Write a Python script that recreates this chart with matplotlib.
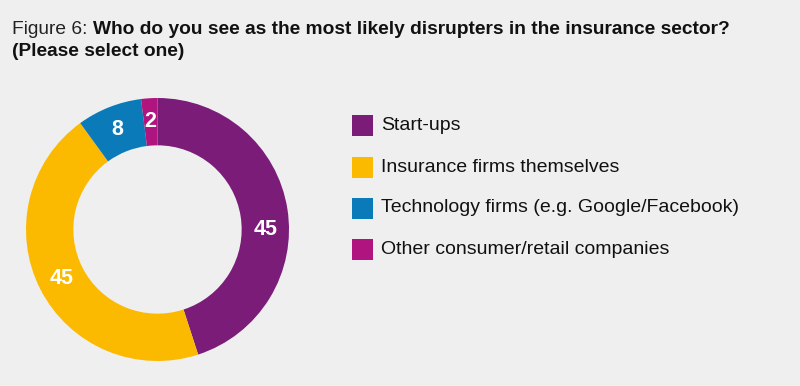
import matplotlib
matplotlib.use("Agg")
import matplotlib.pyplot as plt
from matplotlib.patches import Rectangle

categories = ["Start-ups", "Insurance firms themselves",
              "Technology firms (e.g. Google/Facebook)", "Other consumer/retail companies"]
values = [45, 45, 8, 2]
colors = ["#7a1c78", "#fbb900", "#0a7bb8", "#b0157f"]
title_prefix = "Figure 6: "
title_bold = "Who do you see as the most likely disrupters in the insurance sector?"
title_line2 = "(Please select one)"

BG = "#efefef"
W, H = 800, 386
fig = plt.figure(figsize=(W / 100, H / 100), dpi=100, facecolor=BG)
plt.rcParams['font.family'] = ['Liberation Sans', 'DejaVu Sans']

# donut
cx, cy, r = 157.5, 386 - 229.5, 131.5
ax = fig.add_axes([(cx - r) / W, (cy - r) / H, 2 * r / W, 2 * r / H])
ax.set_facecolor(BG)
wedges, texts = ax.pie(values, colors=colors, startangle=90, counterclock=False,
                       radius=1, wedgeprops=dict(width=0.36, linewidth=0),
                       labels=[str(v) for v in values], labeldistance=0.82,
                       textprops=dict(color="white", fontsize=15.5, fontweight="bold",
                                      ha="center", va="center"))
for t in texts:
    t.set_ha("center"); t.set_va("center")
texts[0].set_position((0.82, 0.0))
ax.set_xlim(-1, 1); ax.set_ylim(-1, 1)
ax.set_aspect("equal")
ax.axis("off")

# title
TS = 13.8
fig.text(12 / W, 1 - 29 / H, title_prefix, fontsize=TS, color="#222222",
         ha="left", va="center")
fig.canvas.draw()
r_ = fig.canvas.get_renderer()
bb = fig.texts[0].get_window_extent(r_)
fig.text(bb.x1 / W, 1 - 29 / H, title_bold, fontsize=TS, fontweight="bold",
         color="#111111", ha="left", va="center")
fig.text(12 / W, 1 - 52 / H, title_line2, fontsize=TS, fontweight="bold",
         color="#111111", ha="left", va="center")

# legend
rows_y = [126, 167, 208, 249]
for cat, col, y in zip(categories, colors, rows_y):
    fig.patches.append(Rectangle((352 / W, 1 - (y + 10.5) / H), 21 / W, 21 / H,
                                 transform=fig.transFigure, facecolor=col,
                                 edgecolor="none", figure=fig))
    fig.text(381 / W, 1 - y / H, cat, fontsize=14.0, color="#111111",
             ha="left", va="center")

fig.savefig("out.png", dpi=100, facecolor=BG)
